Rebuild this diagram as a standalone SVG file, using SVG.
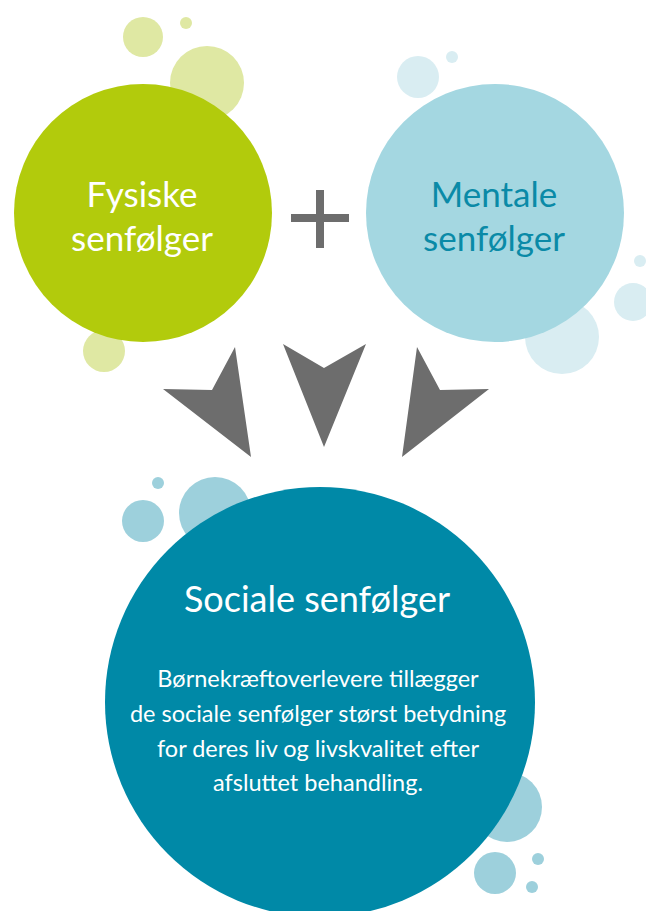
<svg xmlns="http://www.w3.org/2000/svg" width="646" height="911" viewBox="0 0 646 911">
<style>
text{font-family:Lato,"Open Sans","Liberation Sans",sans-serif;text-anchor:middle}
.lg{fill:#dfe8a3}.pb{fill:#d9edf2}.bb{fill:#9dd0dc}
.arrow{fill:#6d6d6d}
.h{font-size:35px}
.t{font-size:36px;fill:#fff}
.b{font-size:23.5px;fill:#fff}
</style>
<g id="bubbles">
<circle class="lg" cx="143" cy="37" r="20"/>
<circle class="lg" cx="186" cy="23" r="6"/>
<circle class="lg" cx="207" cy="83" r="37"/>
<circle class="lg" cx="104" cy="351" r="21"/>
<circle class="pb" cx="418" cy="77" r="21"/>
<circle class="pb" cx="452" cy="57" r="6"/>
<circle class="pb" cx="640" cy="261" r="6"/>
<circle class="pb" cx="633" cy="302" r="19"/>
<circle class="pb" cx="562" cy="337" r="37"/>
<circle class="bb" cx="158" cy="483" r="6"/>
<circle class="bb" cx="143" cy="521" r="21"/>
<circle class="bb" cx="215" cy="513" r="36"/>
<circle class="bb" cx="507" cy="807" r="35"/>
<circle class="bb" cx="495" cy="873" r="21"/>
<circle class="bb" cx="538" cy="859" r="6"/>
<circle class="bb" cx="532" cy="887" r="6"/>
</g>
<g id="fysiske">
<circle cx="143" cy="213" r="129" fill="#b2cb0c"/>
<text class="h" x="142" y="207" fill="#fff">Fysiske</text>
<text class="h" x="142" y="251" fill="#fff">senfølger</text>
</g>
<g id="mentale">
<circle cx="495" cy="213" r="129" fill="#a4d7e1"/>
<text class="h" x="494" y="207" fill="#0a8aa7">Mentale</text>
<text class="h" x="494" y="251" fill="#0a8aa7">senfølger</text>
</g>
<g id="plus" fill="#6d6d6d">
<rect x="291" y="214" width="58" height="8"/>
<rect x="316" y="190" width="8" height="58"/>
</g>
<g id="connectors">
<polygon class="arrow" points="163,389 212,390 235,347 251,457"/>
<polygon class="arrow" points="283,344 324,368 366,344 324,447"/>
<polygon class="arrow" points="417,347 440,390 489,389 402,457"/>
</g>
<g id="sociale">
<circle cx="320" cy="702" r="215" fill="#0089a7"/>
<text class="t" x="317" y="612">Sociale senfølger</text>
<text class="b" x="318" y="687">Børnekræftoverlevere tillægger</text>
<text class="b" x="318" y="722">de sociale senfølger størst betydning</text>
<text class="b" x="318" y="757">for deres liv og livskvalitet efter</text>
<text class="b" x="318" y="791">afsluttet behandling.</text>
</g>
</svg>
